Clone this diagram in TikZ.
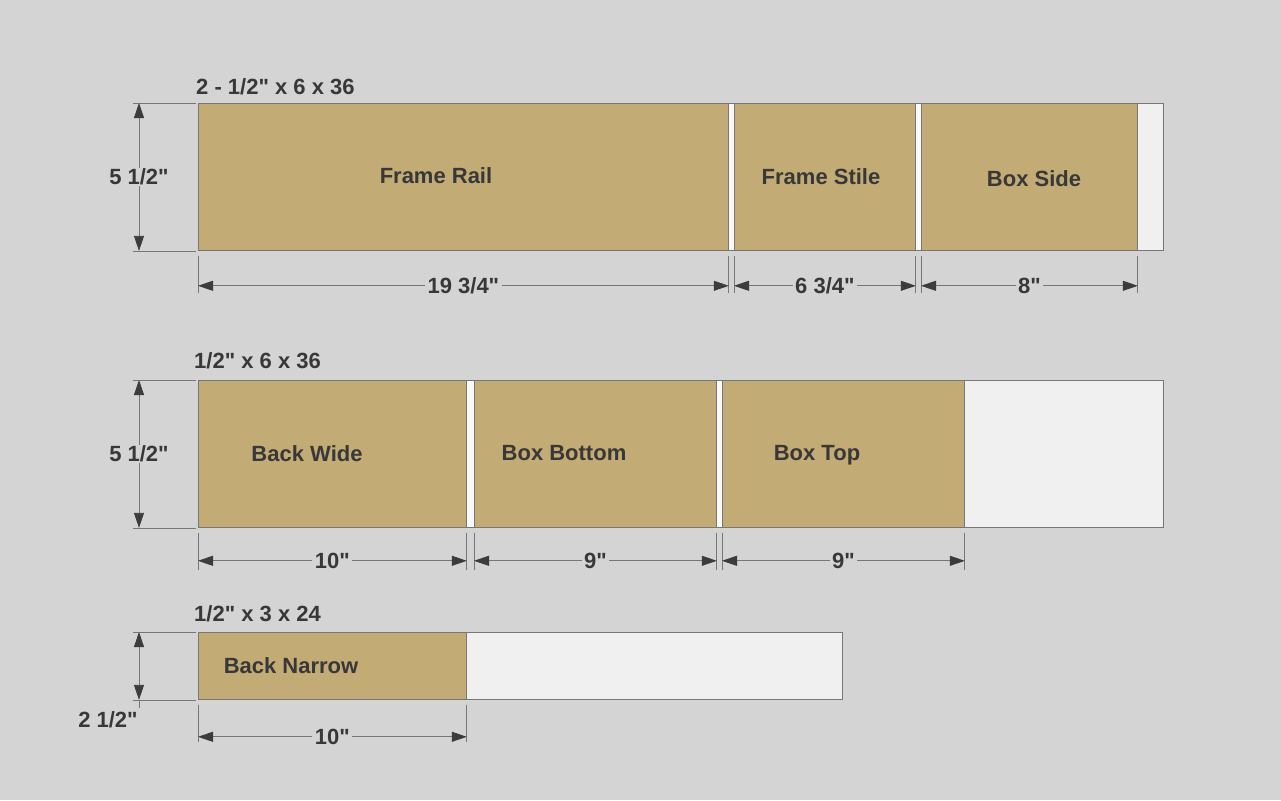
\documentclass[tikz,border=0pt]{standalone}
\usepackage{fontspec}
\setmainfont{Liberation Sans}[Ligatures=TeXOff]
\usetikzlibrary{arrows.meta}
\definecolor{bg}{HTML}{D4D4D4}
\definecolor{boardc}{HTML}{F0F0F0}
\definecolor{gapc}{HTML}{F9F9F9}
\definecolor{tanc}{HTML}{C2AB74}
\definecolor{linec}{HTML}{777777}
\definecolor{txtc}{HTML}{383838}
\definecolor{arrc}{HTML}{3C3C3C}
\begin{document}
\begin{tikzpicture}[x=1pt,y=-1pt,
  board/.style={draw=linec, fill=boardc, line width=0.9pt, inner sep=0pt, anchor=north west},
  piece/.style={draw=linec, fill=tanc, line width=0.8pt, inner sep=0pt, anchor=north west},
  gapfill/.style={fill=gapc},
  lbl/.style={font=\bfseries\fontsize{22}{22}\selectfont, text=txtc, inner sep=0pt, text height=15.5pt, text depth=0pt},
  dimlbl/.style={lbl, fill=bg, inner xsep=2.5pt, inner ysep=1pt},
  dimline/.style={draw=linec, line width=0.8pt, {Triangle[length=15pt,width=10pt,color=arrc]}-{Triangle[length=15pt,width=10pt,color=arrc]}},
  extline/.style={draw=linec, line width=0.8pt}]
\fill[bg] (0,0) rectangle (1281,800);
\useasboundingbox (0,0) rectangle (1281,800);

% ---------- Board 1 ----------
\node[board, minimum width=965pt, minimum height=147pt] (b1) at (198,103) {};
\node[piece, minimum width=530pt, minimum height=147pt] (rail) at (198,103) {};
\node[piece, minimum width=181pt, minimum height=147pt] (stile) at (734,103) {};
\node[piece, minimum width=216pt, minimum height=147pt] (side) at (921,103) {};
\fill[gapfill] ([xshift=0.5pt,yshift=-0.5pt]rail.north east) rectangle ([xshift=-0.5pt,yshift=0.5pt]stile.south west);
\fill[gapfill] ([xshift=0.5pt,yshift=-0.5pt]stile.north east) rectangle ([xshift=-0.5pt,yshift=0.5pt]side.south west);
\node[lbl] (lrail) at (436,176) {Frame Rail};
\node[lbl] (lstile) at (821,177) {Frame Stile};
\node[lbl] (lside) at (1034,179) {Box Side};
\node[lbl, anchor=west] (t1) at (196,87) {2 - 1/2" x 6 x 36};

\foreach \p in {rail,stile,side}{
  \draw[extline] ([yshift=-5pt]\p.south west) -- ([yshift=-42pt]\p.south west);
  \draw[extline] ([yshift=-5pt]\p.south east) -- ([yshift=-42pt]\p.south east);
}
\draw[dimline] ([yshift=-35pt]rail.south west) -- ([yshift=-35pt]rail.south east) node[midway, dimlbl] (d1) {19 3/4"};
\draw[dimline] ([yshift=-35pt]stile.south west) -- ([yshift=-35pt]stile.south east) node[midway, dimlbl] (d2) {6 3/4"};
\draw[dimline] ([yshift=-35pt]side.south west) -- ([yshift=-35pt]side.south east) node[midway, dimlbl] (d3) {8"};

\draw[extline] ([xshift=-2pt]b1.north west) -- ([xshift=-65pt]b1.north west);
\draw[extline] ([xshift=-2pt]b1.south west) -- ([xshift=-65pt]b1.south west);
\draw[dimline] ([xshift=-59pt]b1.north west) -- ([xshift=-59pt]b1.south west) node[midway, dimlbl] (v1) {5 1/2"};

% ---------- Board 2 ----------
\node[board, minimum width=965pt, minimum height=147pt] (b2) at (198,380) {};
\node[piece, minimum width=268pt, minimum height=147pt] (wide) at (198,380) {};
\node[piece, minimum width=242pt, minimum height=147pt] (bottom) at (474,380) {};
\node[piece, minimum width=242pt, minimum height=147pt] (top) at (722,380) {};
\fill[gapfill] ([xshift=0.5pt,yshift=-0.5pt]wide.north east) rectangle ([xshift=-0.5pt,yshift=0.5pt]bottom.south west);
\fill[gapfill] ([xshift=0.5pt,yshift=-0.5pt]bottom.north east) rectangle ([xshift=-0.5pt,yshift=0.5pt]top.south west);
\node[lbl] (lwide) at (307,454) {Back Wide};
\node[lbl] (lbottom) at (564,453) {Box Bottom};
\node[lbl] (ltop) at (817,453) {Box Top};
\node[lbl, anchor=west] (t2) at (194,361) {1/2" x 6 x 36};

\foreach \p in {wide,bottom,top}{
  \draw[extline] ([yshift=-5pt]\p.south west) -- ([yshift=-42pt]\p.south west);
  \draw[extline] ([yshift=-5pt]\p.south east) -- ([yshift=-42pt]\p.south east);
}
\draw[dimline] ([yshift=-33pt]wide.south west) -- ([yshift=-33pt]wide.south east) node[midway, dimlbl] (d4) {10"};
\draw[dimline] ([yshift=-33pt]bottom.south west) -- ([yshift=-33pt]bottom.south east) node[midway, dimlbl] (d5) {9"};
\draw[dimline] ([yshift=-33pt]top.south west) -- ([yshift=-33pt]top.south east) node[midway, dimlbl] (d6) {9"};

\draw[extline] ([xshift=-2pt]b2.north west) -- ([xshift=-65pt]b2.north west);
\draw[extline] ([xshift=-2pt]b2.south west) -- ([xshift=-65pt]b2.south west);
\draw[dimline] ([xshift=-59pt]b2.north west) -- ([xshift=-59pt]b2.south west) node[midway, dimlbl] (v2) {5 1/2"};

% ---------- Board 3 ----------
\node[board, minimum width=644pt, minimum height=67pt] (b3) at (198,632) {};
\node[piece, minimum width=268pt, minimum height=67pt] (narrow) at (198,632) {};
\node[lbl] (lnarrow) at (291,666) {Back Narrow};
\node[lbl, anchor=west] (t3) at (194,614) {1/2" x 3 x 24};

\draw[extline] ([yshift=-5pt]narrow.south west) -- ([yshift=-42pt]narrow.south west);
\draw[extline] ([yshift=-5pt]narrow.south east) -- ([yshift=-42pt]narrow.south east);
\draw[dimline] ([yshift=-37pt]narrow.south west) -- ([yshift=-37pt]narrow.south east) node[midway, dimlbl] (d7) {10"};

\draw[extline] ([xshift=-2pt]b3.north west) -- ([xshift=-65pt]b3.north west);
\draw[extline] ([xshift=-2pt]b3.south west) -- ([xshift=-65pt]b3.south west);
\draw[dimline] ([xshift=-59pt]b3.north west) -- ([xshift=-59pt]b3.south west);
\draw[extline] ([xshift=-59pt]b3.south west) -- ([xshift=-59pt,yshift=-8pt]b3.south west);
\node[lbl] (v3) at (108,720) {2 1/2"};
\end{tikzpicture}
\end{document}
